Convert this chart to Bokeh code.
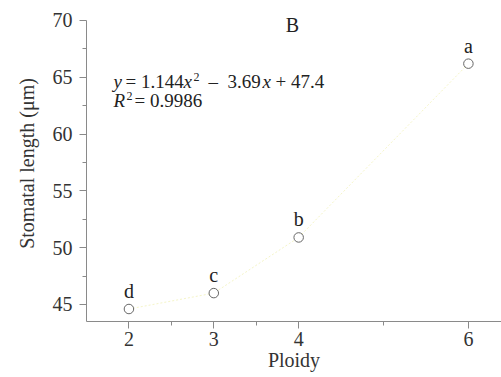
from bokeh.plotting import figure
from bokeh.models import ColumnDataSource, Label, FixedTicker, Range1d
from bokeh.core.properties import value
from bokeh.embed import file_html
from bokeh.resources import INLINE

ploidy = [2, 3, 4, 6]
stomatal_length = [44.6, 46.0, 50.9, 66.2]
group_letters = ["d", "c", "b", "a"]
x_ticks = [2, 3, 4, 6]
x_minor = [2.5, 3.5, 5]
y_ticks = [45, 50, 55, 60, 65, 70]
y_minor = [47.5, 52.5, 57.5, 62.5, 67.5]

FONT = "Liberation Serif"
AX = "#8a8a8a"
TXT = "#333333"

src = ColumnDataSource(dict(x=ploidy, y=stomatal_length, t=group_letters))

p = figure(width=501, height=377, output_backend="svg", toolbar_location=None,
           x_range=Range1d(1.5, 6.39), y_range=Range1d(43.5, 71.32),
           min_border_left=86, min_border_right=0, min_border_top=5, min_border_bottom=56)
p.outline_line_color = None
p.xgrid.visible = False
p.ygrid.visible = False

# faint trend line
p.line("x", "y", source=src, line_color="#f5f5c8", line_width=1, line_dash="2 2")
p.scatter("x", "y", source=src, marker="circle", size=9.5, fill_color="white",
          line_color="#666666", line_width=1)
p.text("x", "y", text="t", source=src, text_font=value(FONT), text_font_size="20px",
       text_align="center", text_baseline="middle", y_offset=-18, text_color="#222222")

for ax in (p.xaxis[0], p.yaxis[0]):
    ax.axis_line_color = AX
    ax.major_tick_line_color = AX
    ax.minor_tick_line_color = AX
    ax.major_tick_out = 7
    ax.major_tick_in = 0
    ax.minor_tick_out = 4
    ax.minor_tick_in = 0
    ax.major_label_text_font = FONT
    ax.major_label_text_font_size = "20px"
    ax.major_label_text_color = TXT
    ax.axis_label_text_font = FONT
    ax.axis_label_text_font_size = "20px"
    ax.axis_label_text_font_style = "normal"
    ax.axis_label_text_color = TXT

p.yaxis.bounds = (43.5, 70)
p.xaxis.ticker = FixedTicker(ticks=x_ticks, minor_ticks=x_minor)
p.yaxis.ticker = FixedTicker(ticks=y_ticks, minor_ticks=y_minor)
p.xaxis.major_label_standoff = 3
p.yaxis.major_label_standoff = 7
p.xaxis.axis_label = "Ploidy"
p.yaxis.axis_label = "Stomatal length (\u03bcm)"
p.xaxis.axis_label_standoff = 0
p.yaxis.axis_label_standoff = 12

FRAME_LEFT = 86
FRAME_BOTTOM = 321

def lab(text, X, Y, size="19px", style="normal", align="left"):
    # X, Y: page pixel position (from top-left), converted to frame screen units
    p.add_layout(Label(x=X - FRAME_LEFT, y=FRAME_BOTTOM - Y, x_units="screen", y_units="screen",
                       text=text, text_font=FONT, text_font_size=size, text_font_style=style,
                       text_color="#222222", text_baseline="middle", text_align=align))

lab("B", 292, 24, size="20px", align="center")
Y1 = 81
lab("y", 113, Y1, style="italic")
lab("= 1.144", 125, Y1)
lab("x", 183, Y1, style="italic")
lab("2", 193, Y1 - 5, size="12px")
lab("\u2013", 208, Y1)
lab("3.69", 227, Y1)
lab("x", 262, Y1, style="italic")
lab("+ 47.4", 275, Y1)
Y2 = 100
lab("R", 113, Y2, style="italic")
lab("2", 126, Y2 - 5, size="12px")
lab("= 0.9986", 134, Y2)

open("out.html", "w").write(file_html(p, INLINE))
